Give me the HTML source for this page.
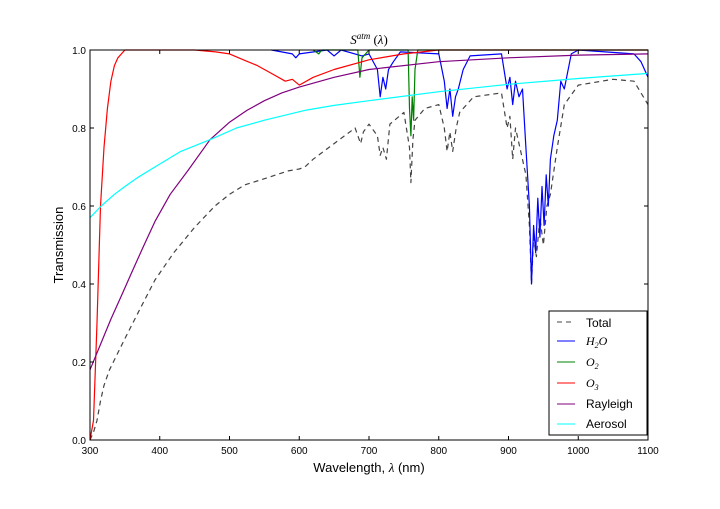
<!DOCTYPE html>
<html><head><meta charset="utf-8">
<style>
html,body{margin:0;padding:0;background:#fff;}
svg text{font-family:"Liberation Sans",sans-serif;}
</style></head>
<body>
<svg id="chart" width="720" height="504" viewBox="0 0 720 504" xmlns="http://www.w3.org/2000/svg">
<rect x="0" y="0" width="720" height="504" fill="#fff"/>
<g id="series"></g>
<rect x="90" y="50" width="558" height="390" fill="none" stroke="#000" stroke-width="1"/>
<g id="ticks"></g>
<text x="369" y="44" text-anchor="middle" font-size="13" style="font-family:'Liberation Serif',serif;font-style:italic">S<tspan font-size="9" dy="-5">atm</tspan><tspan dy="5" font-style="normal"> (</tspan>λ<tspan font-style="normal">)</tspan></text>
<text x="369" y="472" text-anchor="middle" font-size="13">Wavelength, <tspan style="font-family:'Liberation Serif',serif;font-style:italic">λ</tspan> (nm)</text>
<text x="63" y="245" text-anchor="middle" font-size="13" transform="rotate(-90 63 245)">Transmission</text>
<g>
<rect x="549" y="311" width="98" height="124" fill="#fff" stroke="#000"/>
<g><line x1="557" y1="322" x2="575" y2="322" stroke="#444" stroke-dasharray="5,4"/><text x="586" y="327" font-size="12">Total</text></g>
<g><line x1="557" y1="341" x2="575" y2="341" stroke="#0000ff"/><text x="586" y="345" font-size="12" style="font-family:'Liberation Serif',serif;font-style:italic">H<tspan font-size="8" dy="3">2</tspan><tspan dy="-3">O</tspan></text></g>
<g><line x1="557" y1="362" x2="575" y2="362" stroke="#008000"/><text x="586" y="366" font-size="12" style="font-family:'Liberation Serif',serif;font-style:italic">O<tspan font-size="8" dy="3">2</tspan></text></g>
<g><line x1="557" y1="383" x2="575" y2="383" stroke="#ff0000"/><text x="586" y="387" font-size="12" style="font-family:'Liberation Serif',serif;font-style:italic">O<tspan font-size="8" dy="3">3</tspan></text></g>
<g><line x1="557" y1="404" x2="575" y2="404" stroke="#800080"/><text x="586" y="408" font-size="12">Rayleigh</text></g>
<g><line x1="557" y1="424" x2="575" y2="424" stroke="#00ffff"/><text x="586" y="428" font-size="12">Aerosol</text></g>
</g>
</svg>
<script>
const xTicks=[300,400,500,600,700,800,900,1000,1100];
const yTicks=[0,0.2,0.4,0.6,0.8,1.0];
const yTickLabels=["0.0","0.2","0.4","0.6","0.8","1.0"];
const rayW=[300,315,330,345,360,375,393,415,440,472,500,525,550,575,600,650,700,800,900,1000,1100];
const rayV=[0.18,0.245,0.31,0.37,0.43,0.49,0.56,0.63,0.69,0.77,0.815,0.845,0.87,0.89,0.905,0.93,0.95,0.97,0.98,0.987,0.99];
const aerW=[300,316,335,350,370,393,430,472,510,550,610,650,700,800,900,1000,1100];
const aerV=[0.57,0.60,0.63,0.65,0.675,0.70,0.74,0.77,0.80,0.82,0.846,0.858,0.87,0.893,0.912,0.927,0.94];
const o3W=[300,305,310,315,320,325,330,335,340,350,450,480,500,520,540,560,580,590,600,620,650,700,750,800,1100];
const o3V=[0.0,0.05,0.3,0.6,0.75,0.85,0.92,0.96,0.98,1.0,1.0,0.995,0.99,0.975,0.96,0.94,0.92,0.925,0.91,0.93,0.95,0.975,0.99,1.0,1.0];
const h2oW=[560,590,595,600,640,650,660,690,700,712,716,720,724,728,735,745,800,808,812,816,820,824,828,835,845,890,898,902,906,910,915,920,925,930,933,936,939,942,945,948,951,954,957,960,965,970,975,980,990,1000,1080,1090,1095,1100];
const h2oV=[1.0,0.99,0.98,0.99,1.0,0.985,1.0,0.985,0.99,0.95,0.88,0.93,0.9,0.95,0.97,0.995,0.99,0.92,0.85,0.9,0.83,0.88,0.9,0.95,0.985,0.99,0.9,0.93,0.86,0.92,0.88,0.9,0.75,0.6,0.4,0.55,0.48,0.62,0.52,0.65,0.55,0.68,0.6,0.72,0.78,0.82,0.92,0.9,0.99,1.0,0.99,0.97,0.95,0.93];
const o2W=[620,628,632,640,684,687,690,700,756,758,760,762,764,766,770,1100];
const o2V=[1.0,0.99,1.0,1.0,1.0,0.93,0.98,1.0,1.0,0.85,0.78,0.88,0.82,0.95,1.0,1.0];
const totW=[300,305,310,315,320,328,350,370,393,420,450,479,500,522,550,584,600,608,620,650,680,688,692,700,712,716,720,725,730,750,758,760,763,766,780,800,808,812,816,820,825,830,850,890,898,902,906,910,915,925,930,933,936,940,945,950,955,960,970,980,1000,1050,1080,1090,1100];
const totV=[0.0,0.02,0.05,0.1,0.14,0.18,0.26,0.33,0.41,0.48,0.545,0.60,0.63,0.654,0.67,0.69,0.695,0.70,0.72,0.76,0.8,0.76,0.79,0.81,0.78,0.73,0.75,0.72,0.81,0.84,0.75,0.66,0.77,0.82,0.85,0.86,0.8,0.74,0.79,0.74,0.8,0.84,0.88,0.89,0.8,0.83,0.72,0.8,0.76,0.68,0.55,0.4,0.52,0.47,0.57,0.5,0.6,0.63,0.75,0.86,0.91,0.925,0.92,0.89,0.86];

const X=w=>90+(w-300)*558/800;
const Y=v=>440-v*390;
const NS="http://www.w3.org/2000/svg";
const sg=document.getElementById('series');
function line(ws,vs,color,name,dash){
  const p=document.createElementNS(NS,'polyline');
  p.setAttribute('points',ws.map((w,i)=>X(w).toFixed(1)+','+Y(vs[i]).toFixed(1)).join(' '));
  p.setAttribute('fill','none');p.setAttribute('stroke',color);p.setAttribute('stroke-width','1.2');
  p.setAttribute('stroke-linejoin','round');
  if(dash)p.setAttribute('stroke-dasharray',dash);
  
  
  sg.appendChild(p);
}
line(totW,totV,'#444','total-line','5,4');
line(h2oW,h2oV,'#0000ff','h2o-line');
line(o2W,o2V,'#008000','o2-line');
line(o3W,o3V,'#ff0000','o3-line');
line(rayW,rayV,'#800080','rayleigh-line');
line(aerW,aerV,'#00ffff','aerosol-line');

const tg=document.getElementById('ticks');
function el(tag,attrs){const e=document.createElementNS(NS,tag);for(const k in attrs)e.setAttribute(k,attrs[k]);tg.appendChild(e);return e;}
xTicks.forEach(t=>{
  const x=X(t);
  const a=el('line',{x1:x,y1:440,x2:x,y2:436,stroke:'#000'});
  
  
  const b=el('line',{x1:x,y1:50,x2:x,y2:54,stroke:'#000'});
  
  
  const tx=el('text',{x:x,y:454,'text-anchor':'middle','font-size':'10'});
  tx.textContent=t;
  
  
});
yTicks.forEach((t,i)=>{
  const y=Y(t);
  const a=el('line',{x1:90,y1:y,x2:94,y2:y,stroke:'#000'});
  
  
  const b=el('line',{x1:648,y1:y,x2:644,y2:y,stroke:'#000'});
  
  
  const tx=el('text',{x:86,y:y+4,'text-anchor':'end','font-size':'10'});
  tx.textContent=yTickLabels[i];
  
  
});
</script>
</body></html>
